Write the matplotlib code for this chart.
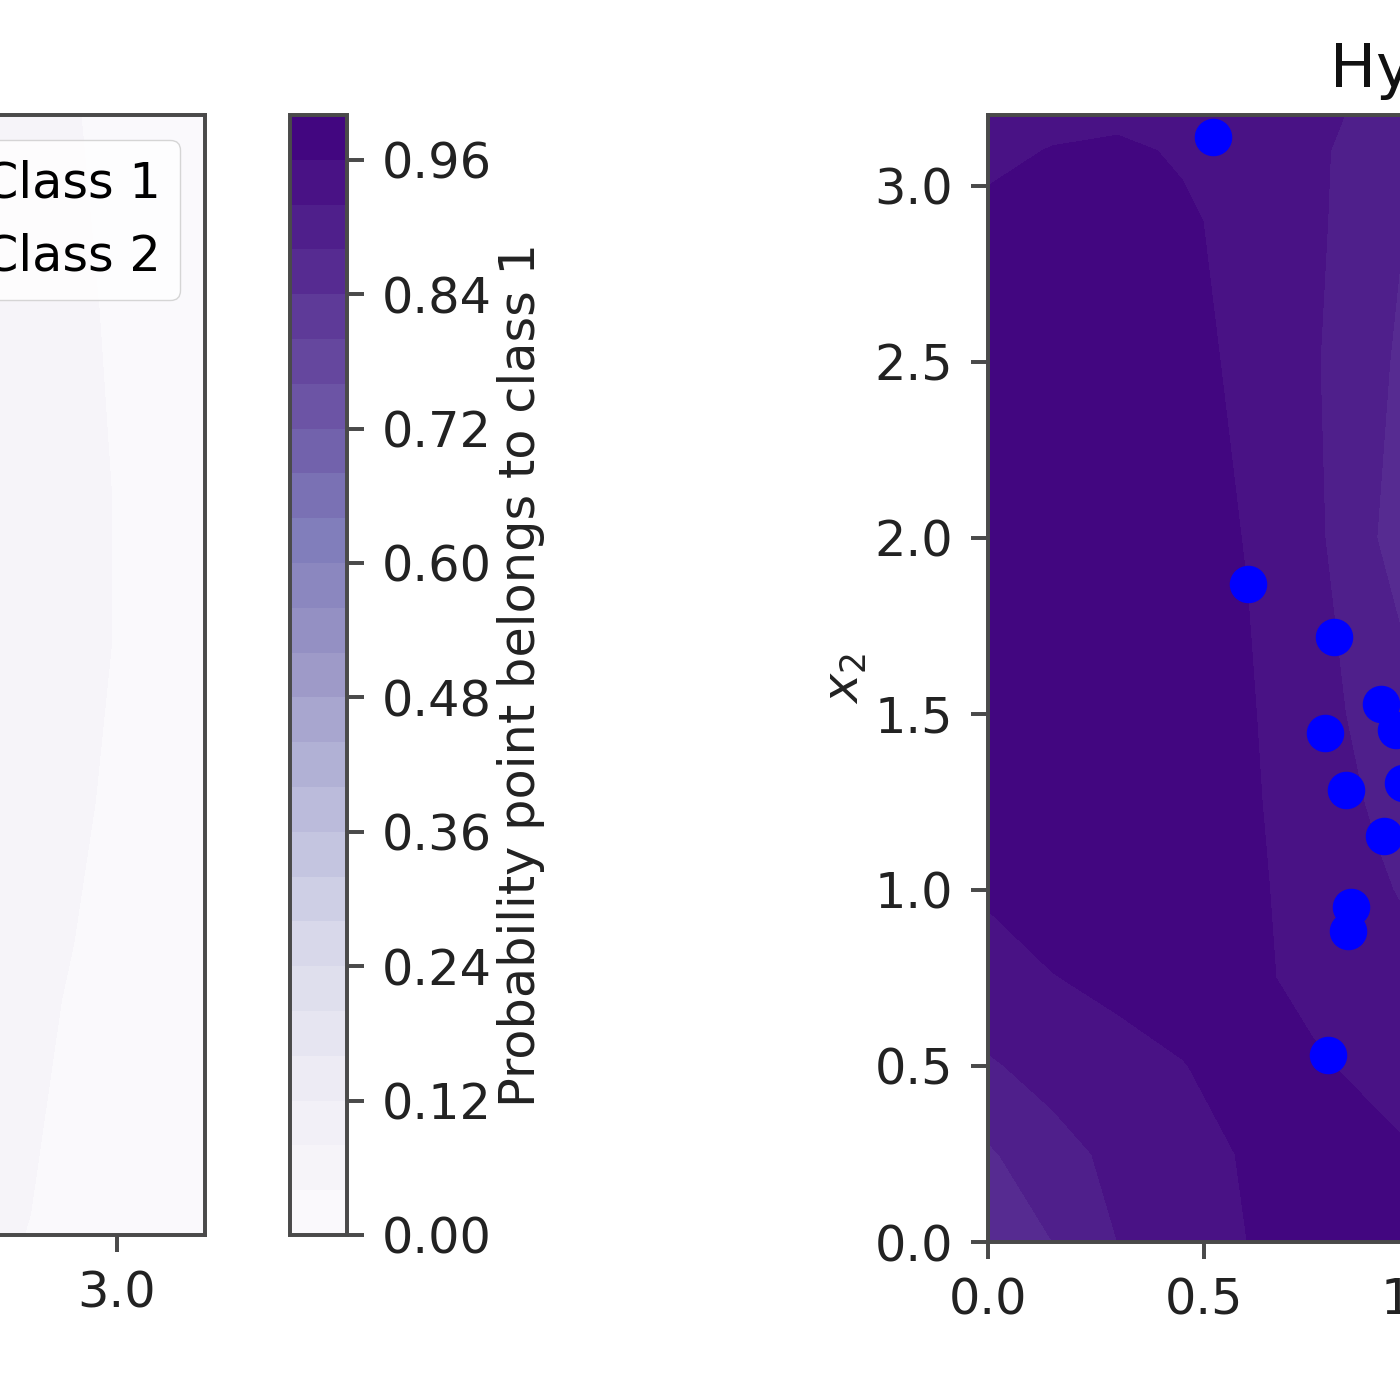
# -*- coding: utf-8 -*-
# Probability contours, left panel and right panel cropped by the canvas
import numpy as np
import matplotlib
matplotlib.use('Agg')
import matplotlib.pyplot as plt

# left panel field, only the part near x=3 can be seen
left_x = [2.7, 2.8, 2.9, 3.0, 3.1, 3.2]
left_y = [0.0, 0.67, 1.24, 1.7, 2.1, 2.64, 3.2]
left_z = [
    [.046, .039, .030, .020, .010, .005],
    [.060, .050, .036, .022, .012, .006],
    [.070, .060, .050, .030, .015, .010],
    [.070, .065, .055, .038, .020, .010],
    [.070, .065, .055, .038, .020, .010],
    [.070, .065, .050, .033, .020, .010],
    [.065, .055, .042, .030, .020, .010],
]

# right panel field
right_x = [0.0, 0.15, 0.3, 0.45, 0.6, 0.75, 0.9, 1.05]
right_y = [0.0, 0.25, 0.5, 0.75, 1.0, 1.25, 1.5, 2.0, 2.5, 2.9, 3.1, 3.2]
right_z = [
    [.860, .880, .920, .940, .960, .980, .980, .980],
    [.875, .905, .930, .947, .963, .975, .970, .955],
    [.915, .935, .950, .959, .970, .965, .950, .940],
    [.950, .959, .967, .972, .968, .950, .935, .920],
    [.963, .975, .980, .980, .968, .945, .925, .905],
    [.980, .980, .980, .980, .966, .940, .915, .890],
    [.980, .980, .980, .980, .964, .936, .905, .870],
    [.980, .980, .980, .975, .9585, .930, .880, .850],
    [.980, .980, .980, .974, .950, .925, .885, .860],
    [.970, .975, .975, .967, .945, .928, .895, .860],
    [.950, .962, .968, .955, .940, .926, .905, .870],
    [.945, .948, .950, .945, .938, .928, .912, .890],
]

# class 1 points on the right panel
points_x = [.521, .602, .801, .910, .944, .780, .829, .961, .917, .840, .833, .787]
points_y = [3.139, 1.869, 1.719, 1.528, 1.455, 1.446, 1.284, 1.304, 1.153, .952, .884, .531]

cbar_ticks = [0.0, 0.12, 0.24, 0.36, 0.48, 0.60, 0.72, 0.84, 0.96]
xy_ticks = [0.0, 0.5, 1.0, 1.5, 2.0, 2.5, 3.0]
levels = np.linspace(0, 1, 26)

fs = 35.6
lw = 2.85
edge = '#4a4a4a'
plt.rcParams.update({
    'font.size': fs,
    'axes.linewidth': lw,
    'axes.edgecolor': edge,
    'xtick.major.width': lw,
    'ytick.major.width': lw,
    'xtick.major.size': 12.5,
    'ytick.major.size': 12.5,
    'xtick.major.pad': 12.5,
    'ytick.major.pad': 12.5,
    'xtick.color': edge,
    'ytick.color': edge,
    'xtick.labelcolor': '#222222',
    'ytick.labelcolor': '#222222',
    'legend.edgecolor': '0.8',
})

W = 1400.0
H = 1400.0


def box(left, top, right, bottom):
    return [left / W, 1 - bottom / H, (right - left) / W, (bottom - top) / H]


fig = plt.figure(figsize=(14, 14), dpi=100)

# left panel runs off the canvas, 3.0 sits at pixel 117
ax1 = fig.add_axes(box(205 - 3.2037 * 432, 115, 205, 1235))
cs = ax1.contourf(left_x, left_y, left_z, levels=levels, cmap='Purples', vmin=0, vmax=1)
ax1.plot([], [], 'o', color='blue', ms=26, label='Class 1')
ax1.plot([], [], 'o', color='red', ms=26, label='Class 2')
ax1.set_xlim(0, 3.2037)
ax1.set_ylim(0, 3.2)
ax1.set_xticks(xy_ticks)
ax1.set_yticks(xy_ticks)
ax1.legend(loc='upper right')

cax = fig.add_axes(box(290, 115, 347, 1235))
cb = fig.colorbar(cs, cax=cax, ticks=cbar_ticks)
cb.ax.set_yticklabels(['%.2f' % t for t in cbar_ticks])
cb.set_label('Probability point belongs to class 1', color='#222222')

ax2 = fig.add_axes(box(988, 115, 988 + 3.2 * 432, 1242))
ax2.contourf(right_x, right_y, right_z, levels=levels, cmap='Purples', vmin=0, vmax=1)
ax2.plot(points_x, points_y, 'o', color='blue', ms=26, clip_on=False, zorder=5)
ax2.set_xlim(0, 3.2)
ax2.set_ylim(0, 3.2017)
ax2.set_xticks(xy_ticks)
ax2.set_yticks(xy_ticks)
ax2.set_ylabel('$x_2$', color='#222222')

# only the start of the title is on the canvas
fig.text(1330 / W, 1 - 87 / H, 'Hy', fontsize=44, color='#111111', ha='left', va='baseline')

fig.savefig('out.png', dpi=100)
